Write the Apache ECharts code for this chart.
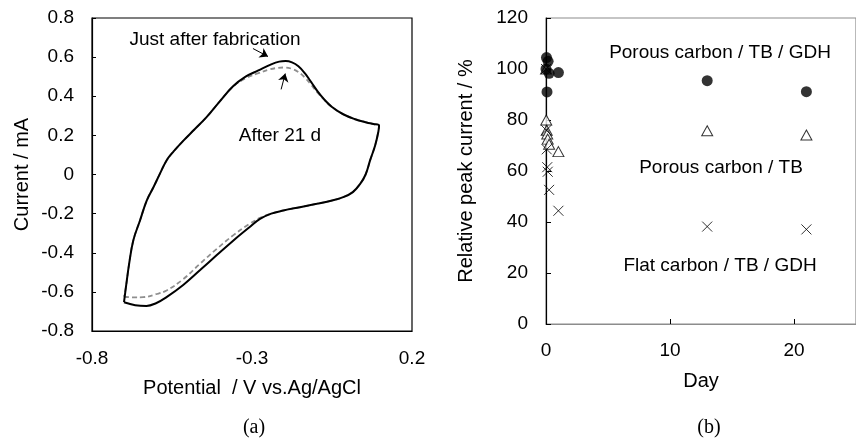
<!DOCTYPE html>
<html>
<head>
<meta charset="utf-8">
<script src="https://cdn.jsdelivr.net/npm/echarts@6/dist/echarts.min.js"></script>
<style>
  html, body { margin: 0; padding: 0; background: #fff; }
  #chart { width: 856px; height: 445px; }
</style>
</head>
<body>
<div id="chart"></div>
<script>
// (a) cyclic voltammograms, [potential V, current mA]
const freshCV = [
  [-0.700, -0.653], [-0.665, -0.668], [-0.630, -0.672], [-0.600, -0.658],
  [-0.567, -0.627], [-0.515, -0.565], [-0.463, -0.490], [-0.410, -0.412],
  [-0.358, -0.337], [-0.310, -0.272], [-0.275, -0.227], [-0.240, -0.200],
  [-0.202, -0.184], [-0.150, -0.167], [-0.098, -0.150], [-0.050, -0.133],
  [-0.015, -0.116], [0.015, -0.090], [0.038, -0.048], [0.055, 0.000],
  [0.069, 0.072], [0.085, 0.150], [0.095, 0.220], [0.097, 0.250],
  [0.080, 0.258], [0.058, 0.266], [0.020, 0.284], [-0.015, 0.308],
  [-0.050, 0.345], [-0.075, 0.385], [-0.095, 0.425], [-0.115, 0.472],
  [-0.135, 0.518], [-0.155, 0.553], [-0.175, 0.573], [-0.195, 0.580],
  [-0.215, 0.577], [-0.240, 0.563], [-0.280, 0.532], [-0.320, 0.500],
  [-0.360, 0.450], [-0.400, 0.375], [-0.442, 0.293], [-0.480, 0.230],
  [-0.515, 0.172], [-0.545, 0.118], [-0.567, 0.072], [-0.588, 0.003],
  [-0.608, -0.065], [-0.629, -0.133], [-0.650, -0.235], [-0.671, -0.337],
  [-0.684, -0.457], [-0.694, -0.576], [-0.700, -0.653]
]
const agedCV = [
  [-0.700, -0.625], [-0.670, -0.628], [-0.640, -0.627], [-0.600, -0.612],
  [-0.567, -0.593], [-0.515, -0.535], [-0.463, -0.457], [-0.410, -0.380],
  [-0.358, -0.310], [-0.310, -0.255], [-0.275, -0.222], [-0.240, -0.200],
  [-0.202, -0.184], [-0.150, -0.167], [-0.098, -0.150], [-0.050, -0.133],
  [-0.015, -0.116], [0.015, -0.090], [0.038, -0.048], [0.055, 0.000],
  [0.069, 0.072], [0.085, 0.150], [0.095, 0.220], [0.097, 0.250],
  [0.080, 0.258], [0.058, 0.266], [0.020, 0.284], [-0.015, 0.308],
  [-0.050, 0.345], [-0.075, 0.383], [-0.095, 0.418], [-0.115, 0.458],
  [-0.135, 0.496], [-0.155, 0.524], [-0.175, 0.540], [-0.197, 0.547],
  [-0.220, 0.545], [-0.245, 0.537], [-0.280, 0.518], [-0.320, 0.492],
  [-0.360, 0.448], [-0.400, 0.375], [-0.442, 0.293], [-0.480, 0.230],
  [-0.515, 0.172], [-0.545, 0.118], [-0.567, 0.072], [-0.588, 0.003],
  [-0.608, -0.065], [-0.629, -0.133], [-0.650, -0.235], [-0.671, -0.337],
  [-0.684, -0.457], [-0.694, -0.576], [-0.700, -0.625]
]
const cvTicksX = [-0.8, -0.3, 0.2]

// (b) relative peak current vs day
const gdhDays = [0, 0.04, 0.08, 0.17, 0.25, 1, 13, 21]
const gdhValues = [100, 104.5, 91, 103, 98.3, 98.6, 95.4, 91.1]
const tbDays = [0, 0.02, 0.06, 0.1, 0.14, 0.25, 1, 13, 21]
const tbValues = [100, 80, 76, 74.5, 72.5, 70.5, 67.6, 75.8, 74.1]
const flatDays = [0, 0.02, 0.06, 0.1, 0.14, 0.25, 1, 13, 21]
const flatValues = [100, 76, 68.5, 61.5, 59.7, 52.6, 44.4, 38.2, 37.1]
const dayTicks = [0, 10, 20]

const pairs = (xs, ys) => xs.map((x, i) => [x, ys[i]])

const FONT = 'Liberation Sans, Arial, sans-serif'
const labelStyle = { color: '#000', fontFamily: FONT, fontSize: 19 }
const titleStyle = { color: '#000', fontFamily: FONT, fontSize: 20 }
const noteStyle = { fill: '#000', font: '19px ' + FONT }

const chart = echarts.init(document.getElementById('chart'), null, { renderer: 'canvas' })

chart.setOption({
  animation: false,
  backgroundColor: '#fff',
  grid: [
    { left: 92, top: 18, width: 320, height: 313, show: true, borderColor: '#000', borderWidth: 1.2 },
    { left: 546, top: 18, width: 320, height: 306, show: true, borderColor: '#8c8c8c', borderWidth: 1.2 }
  ],
  xAxis: [
    {
      gridIndex: 0,
      type: 'value',
      min: -0.8,
      max: 0.2,
      axisLine: { onZero: false, lineStyle: { color: '#000', width: 1.2 } },
      axisTick: { show: false },
      splitLine: { show: false },
      axisLabel: { ...labelStyle, margin: 18, customValues: cvTicksX, formatter: v => String(Math.round(v * 10) / 10) },
      name: 'Potential  / V vs.Ag/AgCl',
      nameLocation: 'middle',
      nameGap: 47,
      nameTextStyle: titleStyle
    },
    {
      gridIndex: 1,
      type: 'value',
      min: 0,
      max: 25,
      axisLine: { onZero: false, lineStyle: { color: '#8c8c8c', width: 1.2 } },
      axisTick: { inside: true, length: 5, customValues: dayTicks, lineStyle: { color: '#000', width: 1 } },
      splitLine: { show: false },
      axisLabel: { ...labelStyle, margin: 17, customValues: dayTicks },
      name: 'Day',
      nameLocation: 'middle',
      nameGap: 47,
      nameTextStyle: titleStyle
    }
  ],
  yAxis: [
    {
      gridIndex: 0,
      type: 'value',
      min: -0.8,
      max: 0.8,
      interval: 0.2,
      axisLine: { onZero: false, lineStyle: { color: '#000', width: 1.2 } },
      axisTick: { inside: true, length: 4, lineStyle: { color: '#000' } },
      splitLine: { show: false },
      axisLabel: { ...labelStyle, margin: 18, formatter: v => String(Math.round(v * 10) / 10) },
      name: 'Current / mA',
      nameLocation: 'middle',
      nameGap: 60,
      nameTextStyle: titleStyle
    },
    {
      gridIndex: 1,
      type: 'value',
      min: 0,
      max: 120,
      interval: 20,
      axisLine: { onZero: false, lineStyle: { color: '#000', width: 1.2 } },
      axisTick: { inside: true, length: 5, lineStyle: { color: '#000' } },
      splitLine: { show: false },
      axisLabel: { ...labelStyle, margin: 18 },
      name: 'Relative peak current / %',
      nameLocation: 'middle',
      nameGap: 70,
      nameTextStyle: titleStyle
    }
  ],
  series: [
    {
      name: 'After 21 d',
      type: 'line',
      xAxisIndex: 0,
      yAxisIndex: 0,
      data: agedCV,
      smooth: 0.4,
      showSymbol: false,
      lineStyle: { color: '#8f8f8f', width: 1.8, type: [5, 3] },
      z: 2
    },
    {
      name: 'Just after fabrication',
      type: 'line',
      xAxisIndex: 0,
      yAxisIndex: 0,
      data: freshCV,
      smooth: 0.4,
      showSymbol: false,
      lineStyle: { color: '#000', width: 2 },
      z: 3,
      markLine: {
        silent: true,
        symbol: ['none', 'arrow'],
        symbolSize: 8,
        label: { show: false },
        lineStyle: { color: '#000', width: 1, type: 'solid' },
        data: [
          [{ coord: [-0.297, 0.644] }, { coord: [-0.25, 0.603] }],
          [{ coord: [-0.209, 0.435] }, { coord: [-0.196, 0.516] }]
        ]
      }
    },
    {
      name: 'Porous carbon / TB / GDH',
      type: 'scatter',
      xAxisIndex: 1,
      yAxisIndex: 1,
      data: pairs(gdhDays, gdhValues),
      symbol: 'circle',
      symbolSize: 11,
      itemStyle: { color: '#000' },
      z: 4
    },
    {
      name: 'Porous carbon / TB',
      type: 'scatter',
      xAxisIndex: 1,
      yAxisIndex: 1,
      data: pairs(tbDays, tbValues),
      symbol: 'triangle',
      symbolSize: [11, 10],
      itemStyle: { color: '#fff', borderColor: '#000', borderWidth: 1 },
      z: 3
    },
    {
      name: 'Flat carbon / TB / GDH',
      type: 'scatter',
      xAxisIndex: 1,
      yAxisIndex: 1,
      data: pairs(flatDays, flatValues),
      symbol: 'path://M0,0L10,10M10,0L0,10',
      symbolSize: 10,
      itemStyle: { color: 'none', borderColor: '#000', borderWidth: 1 },
      z: 3
    }
  ],
  graphic: [
    { type: 'text', x: 215, y: 40, style: { ...noteStyle, text: 'Just after fabrication', align: 'center', verticalAlign: 'middle' } },
    { type: 'text', x: 280, y: 136, style: { ...noteStyle, text: 'After 21 d', align: 'center', verticalAlign: 'middle' } },
    { type: 'text', x: 720, y: 53, style: { ...noteStyle, text: 'Porous carbon / TB / GDH', align: 'center', verticalAlign: 'middle' } },
    { type: 'text', x: 721, y: 168, style: { ...noteStyle, text: 'Porous carbon / TB', align: 'center', verticalAlign: 'middle' } },
    { type: 'text', x: 720, y: 266, style: { ...noteStyle, text: 'Flat carbon / TB / GDH', align: 'center', verticalAlign: 'middle' } },
    { type: 'text', x: 254, y: 428, style: { fill: '#000', font: '20px Liberation Serif, Times New Roman, serif', text: '(a)', align: 'center', verticalAlign: 'middle' } },
    { type: 'text', x: 709, y: 428, style: { fill: '#000', font: '20px Liberation Serif, Times New Roman, serif', text: '(b)', align: 'center', verticalAlign: 'middle' } }
  ]
})
</script>
</body>
</html>
